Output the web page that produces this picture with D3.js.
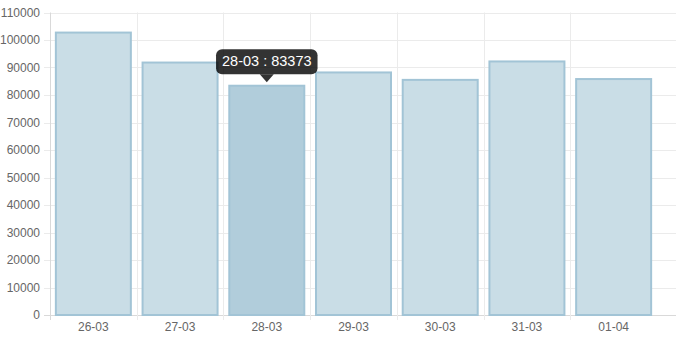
<!DOCTYPE html>
<html><head><meta charset="utf-8">
<script src="https://cdn.jsdelivr.net/npm/d3@7"></script>
<style>body{margin:0;background:#fff}svg{display:block}text{font-family:"Liberation Sans",Arial,sans-serif}</style>
</head><body><svg id="c" width="676" height="338"></svg>
<script>
const categories = ["26-03","27-03","28-03","29-03","30-03","31-03","01-04"];
const values = [102700, 91800, 83373, 88200, 85500, 92200, 85800];
const yTicks = [0,10000,20000,30000,40000,50000,60000,70000,80000,90000,100000,110000];
const hovered = "28-03";

(function () {
const svg = d3.select("#c");
const mLeft = 50, mRight = 657, mTop = 12.5, mBottom = 315, gridRight = 676;
const x = d3.scaleBand().domain(categories).range([mLeft, mRight]).paddingInner(0).paddingOuter(0);
const y = d3.scaleLinear().domain([0, 110000]).range([mBottom, mTop]);

// horizontal grid
svg.append("g").selectAll("line").data(yTicks).join("line")
  .attr("x1", mLeft - 6).attr("x2", gridRight)
  .attr("y1", d => Math.round(y(d)) + 0.5).attr("y2", d => Math.round(y(d)) + 0.5)
  .attr("stroke", d => d === 0 ? "#d9d9d9" : "#ebebeb").attr("stroke-width", 1);
// vertical grid at category boundaries
const bounds = categories.map(c => x(c));
svg.append("g").selectAll("line").data(bounds).join("line")
  .attr("x1", d => Math.round(d) + 0.5).attr("x2", d => Math.round(d) + 0.5)
  .attr("y1", mTop).attr("y2", mBottom + 5)
  .attr("stroke", (d, i) => i === 0 ? "#d9d9d9" : "#ebebeb");

// y labels
svg.append("g").selectAll("text").data(yTicks).join("text")
  .attr("x", 40).attr("y", d => y(d)).attr("dy", "0.35em")
  .attr("text-anchor", "end").attr("font-size", 12).attr("fill", "#666")
  .text(d => d);
// x labels
svg.append("g").selectAll("text").data(categories).join("text")
  .attr("x", d => x(d) + x.bandwidth() / 2).attr("y", 331)
  .attr("text-anchor", "middle").attr("font-size", 12).attr("fill", "#666")
  .text(d => d);

// bars
const bw = 75;
svg.append("g").selectAll("rect").data(categories).join("rect")
  .attr("x", d => x(d) + (x.bandwidth() - bw) / 2)
  .attr("width", bw)
  .attr("y", (d, i) => y(values[i]))
  .attr("height", (d, i) => mBottom - y(values[i]))
  .attr("fill", d => d === hovered ? "#b1cddb" : "#c9dde6")
  .attr("stroke", "#a2c4d6").attr("stroke-width", 2);

// tooltip
const hi = categories.indexOf(hovered);
const cx = x(hovered) + x.bandwidth() / 2;
const tipY = y(values[hi]) - 3;
const label = hovered + " : " + values[hi];
const tg = svg.append("g");
const t = tg.append("text").attr("x", cx).attr("y", tipY - 16.5)
  .attr("text-anchor", "middle").attr("font-size", 14.5)
  .attr("fill", "#fff").text(label);
const tw = t.node().getComputedTextLength();
const bw2 = tw + 12, bh = 25;
tg.insert("rect", "text").attr("x", cx - bw2 / 2).attr("y", tipY - 8.5 - bh)
  .attr("width", bw2).attr("height", bh).attr("rx", 6)
  .attr("fill", "rgba(0,0,0,0.8)");
tg.insert("path", "text").attr("d", `M${cx-7},${tipY-8.5}L${cx},${tipY-0.5}L${cx+7},${tipY-8.5}Z`)
  .attr("fill", "rgba(0,0,0,0.8)");
})();
</script></body></html>
